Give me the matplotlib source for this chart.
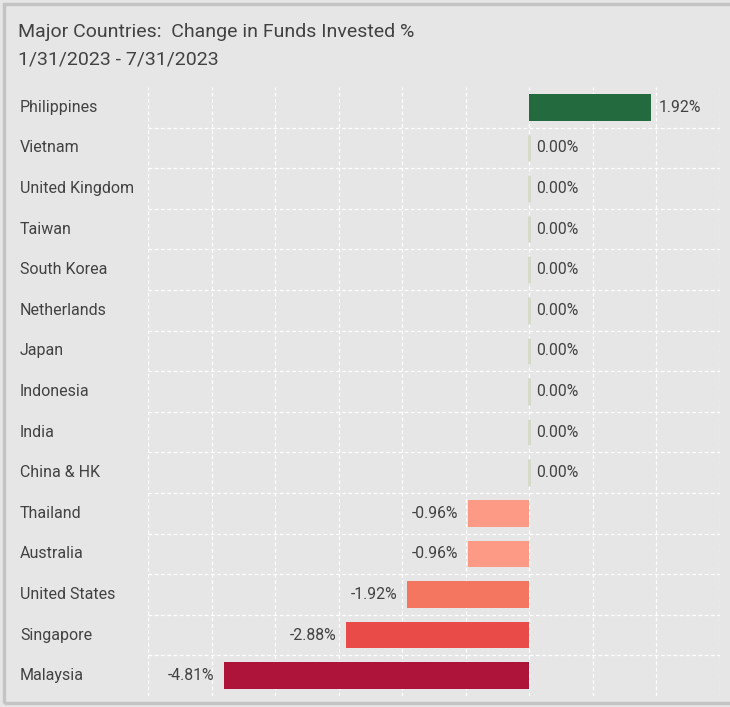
import matplotlib
matplotlib.use("Agg")
import matplotlib.pyplot as plt
from matplotlib.patches import Rectangle
import numpy as np

plt.rcParams["font.family"] = ["Roboto", "DejaVu Sans"]

countries = [
    "Philippines", "Vietnam", "United Kingdom", "Taiwan", "South Korea",
    "Netherlands", "Japan", "Indonesia", "India", "China & HK",
    "Thailand", "Australia", "United States", "Singapore", "Malaysia",
]
change_pct = [1.92, 0.00, 0.00, 0.00, 0.00, 0.00, 0.00, 0.00, 0.00, 0.00,
              -0.96, -0.96, -1.92, -2.88, -4.81]
bar_colors = ["#236a3e"] + ["#d2dac8"] * 9 + ["#fc9a85", "#fc9a85", "#f47560", "#e94c48", "#ae133a"]

title = "Major Countries:  Change in Funds Invested %"
subtitle = "1/31/2023 - 7/31/2023"

bg = "#e6e6e6"
text_col = "#424242"

fig = plt.figure(figsize=(7.30, 7.07), dpi=100, facecolor=bg)

# panel border
fig.patches.append(Rectangle((4 / 730, 4 / 707), 1.2, 1 - 8 / 707, transform=fig.transFigure,
                             fill=False, edgecolor="#c4c4c4", linewidth=2.5))

ax = fig.add_axes([148 / 730, 11 / 707, 572 / 730, 609 / 707])
ax.set_facecolor(bg)

y = np.arange(len(countries))
vals = np.array(change_pct)
nonzero = vals != 0
ax.barh(y[nonzero], vals[nonzero], height=0.66,
        color=[c for c, nz in zip(bar_colors, nonzero) if nz], zorder=3)
ax.barh(y[~nonzero], vals[~nonzero], height=0.66, color="none",
        edgecolor=[c for c, nz in zip(bar_colors, nonzero) if not nz], linewidth=2, zorder=3)

ax.set_xlim(-6, 3)
ax.set_ylim(len(countries) - 0.5, -0.5)

ax.set_xticks(np.arange(-6, 4, 1))
ax.set_yticks(np.arange(0.5, len(countries) - 0.5, 1), minor=True)
ax.set_yticks([])
ax.grid(True, axis="x", which="major", color="white", linestyle=(0, (3, 2)), linewidth=0.9, zorder=0)
ax.grid(True, axis="y", which="minor", color="white", linestyle=(0, (3, 2)), linewidth=0.9, zorder=0)
ax.tick_params(which="both", length=0, labelbottom=False, labelleft=False)
for s in ax.spines.values():
    s.set_visible(False)

for yi, v in zip(y, vals):
    lab = "{:.2f}%".format(v)
    if v < 0:
        ax.annotate(lab, (v, yi), xytext=(-7, 0), textcoords="offset points",
                    ha="right", va="center", fontsize=11.3, color=text_col)
    else:
        ax.annotate(lab, (v, yi), xytext=(5, 0), textcoords="offset points",
                    ha="left", va="center", fontsize=11.3, color=text_col)

for yi, name in zip(y, countries):
    ax.annotate(name, (0, yi), xycoords=("figure fraction", "data"), xytext=(20, 0),
                textcoords="offset pixels", ha="left", va="center", fontsize=11.5, color=text_col)

fig.text(18 / 730, 1 - 32 / 707, title, ha="left", va="center", fontsize=14, color=text_col)
fig.text(18 / 730, 1 - 59 / 707, subtitle, ha="left", va="center", fontsize=14, color=text_col)

fig.savefig("out.png", dpi=100, facecolor=bg)
